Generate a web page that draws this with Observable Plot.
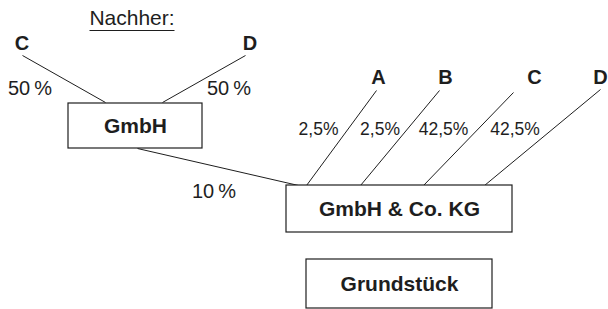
<!DOCTYPE html>
<html>
<head>
<meta charset="utf-8">
<script src="https://cdn.jsdelivr.net/npm/d3@7"></script>
<script src="https://cdn.jsdelivr.net/npm/@observablehq/plot@0.6"></script>
<style>
  html, body { margin: 0; padding: 0; background: #fff; }
  #chart svg { display: block; }
</style>
</head>
<body>
<div id="chart"></div>
<script>
// ---- data (text content only) ----
const title = "Nachher:";
const entities = ["GmbH", "GmbH & Co. KG", "Grundstück"];
const gmbhOwners = ["C", "D"];
const gmbhShares = ["50\u2009%", "50\u2009%"];
const kgOwners = ["A", "B", "C", "D"];
const kgShares = ["2,5%", "2,5%", "42,5%", "42,5%"];
const gmbhToKgShare = "10\u2009%";

// ---- layout (diagram geometry, pixel space) ----
const boxLayout = [
  {x1: 68, x2: 202, y1: 103, y2: 148},
  {x1: 286, x2: 512, y1: 185, y2: 232},
  {x1: 306, x2: 492, y1: 259, y2: 308}
];
const gmbhOwnerLayout = [
  {lx: 21.5, ly: 43.5, x1: 22, y1: 55, x2: 105, y2: 102, px: 29.5, py: 88.5},
  {lx: 249.5, ly: 43.5, x1: 245, y1: 55, x2: 162, y2: 102, px: 228.5, py: 88.5}
];
const kgOwnerLayout = [
  {lx: 378, ly: 77, x1: 376, y1: 90, x2: 306, y2: 185, px: 318, py: 128.5},
  {lx: 445, ly: 77, x1: 439, y1: 90, x2: 360, y2: 185, px: 379.5, py: 128.5},
  {lx: 534, ly: 77, x1: 513, y1: 92, x2: 423, y2: 185, px: 443, py: 128.5},
  {lx: 600, ly: 77, x1: 600, y1: 89, x2: 484, y2: 185, px: 514.5, py: 128.5}
];
const gmbhKgLink = {x1: 137, y1: 148, x2: 298, y2: 185, px: 213.5, py: 191.5};
const titleLayout = {x: 131.5, y: 17.5, ux1: 89, ux2: 174, uy: 30};

// ---- build tables ----
const boxes = entities.map((name, i) => ({name, ...boxLayout[i],
  cx: (boxLayout[i].x1 + boxLayout[i].x2) / 2, cy: (boxLayout[i].y1 + boxLayout[i].y2) / 2 + 0.5}));
const gOwners = gmbhOwners.map((name, i) => ({name, share: gmbhShares[i], ...gmbhOwnerLayout[i]}));
const kOwners = kgOwners.map((name, i) => ({name, share: kgShares[i], ...kgOwnerLayout[i]}));
const links = [...gOwners, ...kOwners, gmbhKgLink];
const ink = "#1e1e1e";

const chart = Plot.plot({
  width: 608,
  height: 309,
  margin: 0,
  x: {domain: [0, 608], range: [0, 608], axis: null},
  y: {domain: [0, 309], range: [0, 309], axis: null},
  style: {background: "#fff", fontFamily: "'Liberation Sans', Arial, sans-serif", color: ink},
  marks: [
    Plot.link(links, {x1: "x1", y1: "y1", x2: "x2", y2: "y2", stroke: ink, strokeWidth: 1}),
    Plot.rect(boxes, {x1: "x1", x2: "x2", y1: "y1", y2: "y2", fill: "#fff", stroke: ink, strokeWidth: 1.2}),
    Plot.text(boxes, {x: "cx", y: "cy", text: "name", fontSize: 21, fontWeight: "bold", fill: ink}),
    Plot.text([...gOwners, ...kOwners], {x: "lx", y: "ly", text: "name", fontSize: 20, fontWeight: "bold", fill: ink}),
    Plot.text(gOwners, {x: "px", y: "py", text: "share", fontSize: 20, fill: ink}),
    Plot.text(kOwners, {x: "px", y: "py", text: "share", fontSize: 17.5, fill: ink}),
    Plot.text([gmbhKgLink], {x: "px", y: "py", text: () => gmbhToKgShare, fontSize: 20, fill: ink}),
    Plot.text([titleLayout], {x: "x", y: "y", text: () => title, fontSize: 21, fill: ink}),
    Plot.link([titleLayout], {x1: "ux1", x2: "ux2", y1: "uy", y2: "uy", stroke: ink, strokeWidth: 1.2})
  ]
});
document.getElementById("chart").append(chart);
</script>
</body>
</html>
